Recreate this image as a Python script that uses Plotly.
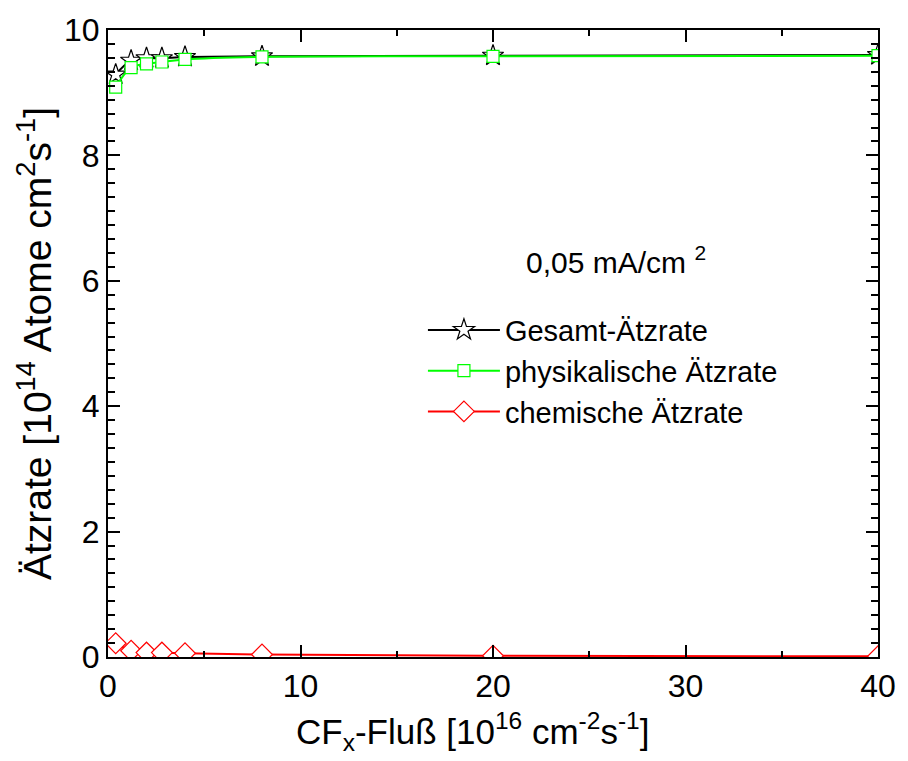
import plotly.graph_objects as go

# CF_x flux (10^16 cm^-2 s^-1)
flux = [0.4, 1.2, 2, 2.8, 4, 8, 20, 40]

# etch rates (10^14 atoms cm^-2 s^-1)
gesamt = [9.29, 9.51, 9.55, 9.55, 9.57, 9.58, 9.59, 9.60]
physikalisch = [9.09, 9.40, 9.46, 9.49, 9.53, 9.57, 9.58, 9.59]
chemisch = [0.22, 0.10, 0.07, 0.07, 0.06, 0.04, 0.02, 0.01]

series_names = ["Gesamt-Ätzrate", "physikalische Ätzrate", "chemische Ätzrate"]

FONT = "Liberation Sans, Arial, sans-serif"

fig = go.Figure()

fig.add_trace(go.Scatter(
    x=flux, y=gesamt, name=series_names[0], mode="lines+markers",
    line=dict(color="black", width=2, shape="spline"),
    marker=dict(symbol="star", size=16, color="white", line=dict(color="black", width=1.2)),
))
fig.add_trace(go.Scatter(
    x=flux, y=physikalisch, name=series_names[1], mode="lines+markers",
    line=dict(color="#00ff00", width=2, shape="spline"),
    marker=dict(symbol="square", size=12, color="white", line=dict(color="#00ff00", width=1.2)),
))
fig.add_trace(go.Scatter(
    x=flux, y=chemisch, name=series_names[2], mode="lines+markers",
    line=dict(color="#ff0000", width=2, shape="spline"),
    marker=dict(symbol="diamond", size=16, color="white", line=dict(color="#ff0000", width=1.2)),
))

axis_common = dict(
    showline=True, linecolor="black", linewidth=2, mirror="allticks",
    ticks="inside", tickcolor="black", tickwidth=2, ticklen=12,
    showgrid=False, zeroline=False,
    tickfont=dict(family=FONT, size=32, color="black"),
)

fig.update_xaxes(
    range=[0, 40], dtick=10, tick0=0,
    minor=dict(dtick=5, ticks="inside", ticklen=6, tickwidth=2, tickcolor="black"),
    **axis_common,
)
fig.update_yaxes(
    range=[0, 10], dtick=2, tick0=0,
    minor=dict(dtick=2 / 9, ticks="inside", ticklen=7, tickwidth=2, tickcolor="black"),
    title=dict(text="Ätzrate [10<sup>14</sup> Atome cm<sup>2</sup>s<sup>-1</sup>]",
               font=dict(family=FONT, size=39, color="black"), standoff=0),
    **axis_common,
)

# x-axis title, set slightly left of the plot centre
fig.add_annotation(
    x=0.474, y=-0.119, xref="paper", yref="paper", showarrow=False,
    xanchor="center", yanchor="middle",
    text="CF<sub>x</sub>-Fluß [10<sup>16</sup> cm<sup>-2</sup>s<sup>-1</sup>]",
    font=dict(family=FONT, size=35, color="black"),
)

fig.add_annotation(
    x=26.4, y=6.33, xref="x", yref="y", showarrow=False,
    text="0,05 mA/cm <sup>2</sup>",
    font=dict(family=FONT, size=30, color="black"),
)

fig.update_layout(
    width=908, height=761,
    margin=dict(l=108, r=22, t=22, b=104),
    paper_bgcolor="white", plot_bgcolor="white",
    showlegend=True,
    legend=dict(
        x=0.409, y=0.562, xanchor="left", yanchor="top",
        bgcolor="rgba(0,0,0,0)", borderwidth=0,
        font=dict(family=FONT, size=29, color="black"),
        itemwidth=72, tracegroupgap=0,
    ),
)

fig.write_html("out.html")
